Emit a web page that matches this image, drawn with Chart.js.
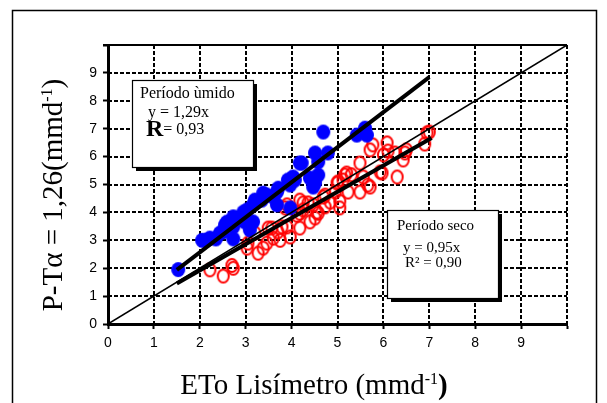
<!DOCTYPE html>
<html>
<head>
<meta charset="utf-8">
<script src="https://cdn.jsdelivr.net/npm/chart.js@4/dist/chart.umd.min.js"></script>
<style>
    html, body { margin: 0; padding: 0; background: #fff; }
    canvas { display: block; }
</style>
</head>
<body>
<canvas id="chart" width="607" height="403"></canvas>
<script>
// Periodo umido (blue, filled)
const wetX = [1.53, 2.05, 2.14, 2.22, 2.35, 2.44, 2.51, 2.55, 2.59, 2.73, 2.73, 2.73, 2.9, 2.95, 2.98, 3.03, 3.09, 3.16, 3.16, 3.2, 3.35, 3.38, 3.46, 3.6, 3.68, 3.68, 3.71, 3.92, 3.97, 3.97, 4.03, 4.07, 4.18, 4.22, 4.4, 4.47, 4.51, 4.51, 4.58, 4.58, 4.69, 4.79, 5.42, 5.6, 5.64];
const wetY = [1.95, 3.0, 3.0, 3.08, 3.05, 3.26, 3.3, 3.55, 3.65, 3.05, 3.48, 3.84, 3.75, 4.01, 3.66, 4.09, 3.37, 3.66, 4.27, 4.44, 4.44, 4.69, 4.62, 4.55, 4.27, 4.73, 4.87, 5.16, 4.16, 4.98, 5.27, 5.16, 5.77, 5.77, 5.23, 4.91, 5.05, 6.13, 5.81, 5.34, 6.88, 6.13, 6.77, 7.02, 6.77];

// Periodo seco (red, open)
const dryX = [2.22, 2.51, 2.73, 2.7, 3.03, 3.05, 3.2, 3.27, 3.38, 3.46, 3.49, 3.57, 3.6, 3.7, 3.75, 3.79, 3.86, 3.9, 3.9, 3.97, 4.12, 4.18, 4.18, 4.18, 4.25, 4.25, 4.36, 4.4, 4.47, 4.51, 4.55, 4.58, 4.69, 4.73, 4.73, 4.84, 4.95, 4.99, 5.01, 5.05, 5.05, 5.12, 5.16, 5.2, 5.23, 5.3, 5.49, 5.49, 5.56, 5.66, 5.71, 5.71, 5.77, 5.93, 5.97, 6.0, 6.08, 6.1, 6.25, 6.3, 6.43, 6.47, 6.5, 6.9, 6.95, 7.0];
const dryY = [1.94, 1.72, 2.0, 2.1, 2.72, 2.9, 3.26, 2.54, 2.72, 2.9, 3.44, 3.44, 3.08, 3.3, 3.0, 3.48, 4.16, 4.27, 3.48, 3.12, 3.9, 3.44, 3.97, 4.44, 4.34, 4.09, 4.34, 3.66, 4.27, 3.8, 4.01, 3.97, 4.55, 4.62, 4.2, 4.37, 4.73, 5.05, 5.09, 4.16, 4.4, 5.16, 5.34, 5.41, 4.73, 5.35, 5.77, 4.73, 5.27, 4.98, 4.91, 6.24, 6.42, 5.45, 5.41, 6.06, 6.49, 6.2, 6.13, 5.27, 5.88, 6.13, 6.24, 6.45, 6.85, 6.88];

// regression lines and 1:1 line (end points)
const wetLineX = [1.5, 7.0];
const wetLineY = [1.94, 8.85];
const dryLineX = [1.5, 7.05];
const dryLineY = [1.45, 6.67];
const oneToOneX = [0, 10];
const oneToOneY = [0, 10];

const tickLabels = ['0', '1', '2', '3', '4', '5', '6', '7', '8', '9'];

const toPoints = (xs, ys) => xs.map((x, i) => ({ x, y: ys[i] }));

const ellipseMarker = (w, h, fill, stroke, lw) => {
    const c = document.createElement('canvas');
    c.width = w + 4;
    c.height = h + 4;
    const ctx = c.getContext('2d');
    ctx.beginPath();
    ctx.ellipse(c.width / 2, c.height / 2, w / 2, h / 2, 0, 0, Math.PI * 2);
    if (fill) { ctx.fillStyle = fill; ctx.fill(); }
    if (stroke) { ctx.lineWidth = lw; ctx.strokeStyle = stroke; ctx.stroke(); }
    return c;
};

const blueDot = ellipseMarker(14, 15, '#0000ff', null, 0);
const redRing = ellipseMarker(11, 13, null, '#ff0000', 2);

// draws text with superscript pieces, centred on x
const drawParts = (ctx, parts, x, y) => {
    let total = 0;
    parts.forEach((p) => { ctx.font = p.font; total += ctx.measureText(p.text).width; });
    let cx = x - total / 2;
    parts.forEach((p) => {
        ctx.font = p.font;
        ctx.fillText(p.text, cx, y + (p.dy || 0));
        cx += ctx.measureText(p.text).width;
    });
};

const serif = '"Liberation Serif", "Times New Roman", serif';

const extrasPlugin = {
    id: 'extras',
    beforeDraw(chart) {
        const ctx = chart.ctx;
        ctx.save();
        ctx.strokeStyle = '#000';
        ctx.lineWidth = 1.5;
        ctx.strokeRect(12.5, 10.5, 584, 400);
        ctx.restore();
    },
    beforeDatasetsDraw(chart) {
        // dashed grid at every tick, from the scales
        const ctx = chart.ctx;
        const a = chart.chartArea;
        const xs = chart.scales.x, ys = chart.scales.y;
        ctx.save();
        ctx.strokeStyle = '#000';
        ctx.lineWidth = 2;
        ctx.setLineDash([4, 2]);
        xs.ticks.forEach((t) => {
            if (t.value === 0) return;
            const px = Math.round(xs.getPixelForValue(t.value));
            ctx.beginPath();
            ctx.moveTo(px, a.top);
            ctx.lineTo(px, a.bottom);
            ctx.stroke();
        });
        ys.ticks.forEach((t) => {
            if (t.value === 0 || t.value === 10) return;
            const py = Math.round(ys.getPixelForValue(t.value));
            ctx.beginPath();
            ctx.moveTo(a.left, py);
            ctx.lineTo(a.right, py);
            ctx.stroke();
        });
        ctx.restore();
    },
    afterDraw(chart) {
        const ctx = chart.ctx;
        const a = chart.chartArea;
        ctx.save();
        // solid top border of plot
        ctx.strokeStyle = '#000';
        ctx.lineWidth = 2;
        ctx.beginPath();
        ctx.moveTo(a.left - 5, a.top);
        ctx.lineTo(a.right, a.top);
        ctx.stroke();

        ctx.fillStyle = '#000';
        ctx.textBaseline = 'alphabetic';

        // x title
        drawParts(ctx, [
            { text: 'ETo Lisímetro (mmd', font: '29px ' + serif },
            { text: '-1', font: '16px ' + serif, dy: -10 },
            { text: ')', font: 'bold 29px ' + serif }
        ], 314, 394);

        // y title
        ctx.save();
        ctx.translate(53, 195);
        ctx.rotate(-Math.PI / 2);
        drawParts(ctx, [
            { text: 'P-Tα = 1,26(mmd', font: '29px ' + serif },
            { text: '-1', font: '16px ' + serif, dy: -10 },
            { text: ')', font: '29px ' + serif }
        ], 0, 9);
        ctx.restore();

        // boxes
        const box = (x, y, w, h) => {
            ctx.fillStyle = '#000';
            ctx.fillRect(x + 4, y + 4, w, h);
            ctx.fillStyle = '#fff';
            ctx.fillRect(x, y, w, h);
            ctx.strokeStyle = '#000';
            ctx.lineWidth = 1.2;
            ctx.strokeRect(x + 0.5, y + 0.5, w, h);
            ctx.fillStyle = '#000';
        };
        ctx.textAlign = 'left';

        const wx = a.left + 24, wy = a.top + 35;
        box(wx, wy, 121, 87);
        ctx.font = '16px ' + serif;
        ctx.fillText('Período ùmido', wx + 8, wy + 18);
        ctx.fillText('y = 1,29x', wx + 16, wy + 37);
        ctx.font = 'bold 24px ' + serif;
        ctx.fillText('R', wx + 14, wy + 56);
        const rw = ctx.measureText('R').width;
        ctx.font = '16px ' + serif;
        ctx.fillText('= 0,93', wx + 14 + rw, wy + 54);

        const dx = a.left + 279, dy = a.top + 165;
        box(dx, dy, 111, 88);
        ctx.font = '15px ' + serif;
        ctx.fillText('Período seco', dx + 10, dy + 20);
        ctx.fillText('y = 0,95x', dx + 16, dy + 42);
        ctx.fillText('R² = 0,90', dx + 18, dy + 57);

        ctx.restore();
    }
};

const tickFont = { family: '"Liberation Sans", Arial, sans-serif', size: 14 };

new Chart(document.getElementById('chart'), {
    type: 'scatter',
    data: {
        datasets: [
            {
                data: toPoints(wetLineX, wetLineY),
                showLine: true, borderColor: '#000', borderWidth: 4, pointRadius: 0
            },
            {
                data: toPoints(dryLineX, dryLineY),
                showLine: true, borderColor: '#000', borderWidth: 4, pointRadius: 0
            },
            {
                data: toPoints(oneToOneX, oneToOneY),
                showLine: true, borderColor: '#000', borderWidth: 1.5, pointRadius: 0
            },
            {
                label: 'Período ùmido',
                data: toPoints(wetX, wetY),
                pointStyle: blueDot, pointRadius: 7
            },
            {
                label: 'Período seco',
                data: toPoints(dryX, dryY),
                pointStyle: redRing, pointRadius: 7
            }
        ]
    },
    options: {
        responsive: false,
        animation: false,
        devicePixelRatio: 1,
        layout: { padding: { left: 0, top: 45, right: 40, bottom: 0 } },
        plugins: { legend: { display: false }, tooltip: { enabled: false } },
        scales: {
            x: {
                min: 0, max: 10,
                ticks: {
                    stepSize: 1, color: '#000', font: tickFont, padding: 6,
                    callback: (v) => tickLabels[v] || ''
                },
                grid: { drawOnChartArea: false, color: '#000', tickLength: 5, tickColor: '#000', tickWidth: 2 },
                border: { display: true, color: '#000', width: 3 },
                afterFit: (s) => { s.height = 79; }
            },
            y: {
                min: 0, max: 10,
                ticks: {
                    stepSize: 1, color: '#000', font: tickFont, padding: 6,
                    callback: (v) => tickLabels[v] || ''
                },
                grid: { drawOnChartArea: false, color: '#000', tickLength: 5, tickColor: '#000', tickWidth: 2 },
                border: { display: true, color: '#000', width: 3 },
                afterFit: (s) => { s.width = 108; }
            }
        }
    },
    plugins: [extrasPlugin]
});
</script>
</body>
</html>
